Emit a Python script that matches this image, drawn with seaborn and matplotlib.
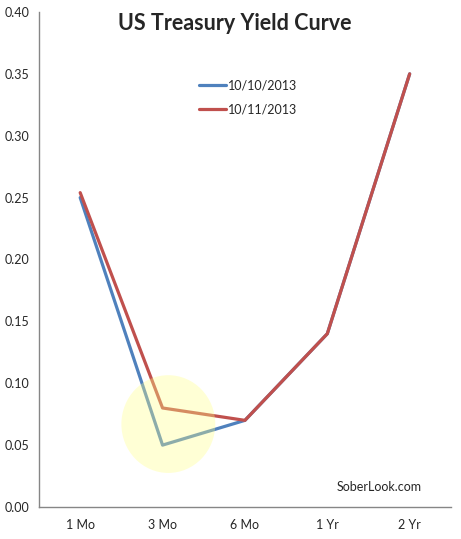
import matplotlib
matplotlib.use('Agg')
import matplotlib.pyplot as plt
from matplotlib.patches import Ellipse
from matplotlib.ticker import FixedLocator, NullFormatter
import seaborn as sns
import pandas as pd

maturities = ["1 Mo", "3 Mo", "6 Mo", "1 Yr", "2 Yr"]
yield_oct10 = [0.25, 0.05, 0.07, 0.14, 0.35]
yield_oct11 = [0.254, 0.08, 0.07, 0.14, 0.35]
dates = ["10/10/2013", "10/11/2013"]

df = pd.DataFrame({
    "maturity": maturities * 2,
    "pos": list(range(len(maturities))) * 2,
    "yield": yield_oct10 + yield_oct11,
    "date": [dates[0]] * 5 + [dates[1]] * 5,
})

sns.set_style("white")
plt.rcParams['font.family'] = ['Lato', 'DejaVu Sans']

fig = plt.figure(figsize=(4.61, 5.39), dpi=100)
ax = fig.add_axes([0.0846, 0.0594, 0.8934, 0.9184])

sns.lineplot(data=df, x="pos", y="yield", hue="date", sort=False,
             palette=["#4F81BD", "#C0504D"], linewidth=2.3, ax=ax)

# highlight circle around 3 Mo
ax.add_patch(Ellipse((1.07, 0.067), 1.14, 0.079, facecolor="#FFFF88",
                     alpha=0.35, edgecolor="none", zorder=5))

ax.set_xlim(-0.5, 4.5)
ax.set_ylim(0, 0.40)
ax.set_yticks([i * 0.05 for i in range(9)])
ax.set_yticklabels([f"{i * 0.05:.2f}" for i in range(9)], fontsize=9)

ax.xaxis.set_major_locator(FixedLocator([-0.5, 0.5, 1.5, 2.5, 3.5, 4.5]))
ax.xaxis.set_major_formatter(NullFormatter())
ax.xaxis.set_minor_locator(FixedLocator(range(len(maturities))))
ax.set_xticklabels(maturities, minor=True, fontsize=9)
ax.tick_params(axis="x", which="major", length=5, color="#868686", direction="out")
ax.tick_params(axis="x", which="minor", length=0, pad=9)
ax.tick_params(axis="y", length=4, color="#868686", direction="out", pad=3)

for side in ["top", "right"]:
    ax.spines[side].set_visible(False)
for side in ["left", "bottom"]:
    ax.spines[side].set_color("#868686")
    ax.spines[side].set_linewidth(1)

ax.set_xlabel("")
ax.set_ylabel("")

fig.text(0.51, 0.956, "US Treasury Yield Curve", ha="center", va="center",
         fontsize=15.5, fontweight="bold")

ax.legend(loc="upper left", bbox_to_anchor=(0.36, 0.887), frameon=False,
          fontsize=9, handlelength=2.2, handletextpad=0.15, labelspacing=0.95)

ax.text(0.93, 0.04, "SoberLook.com", transform=ax.transAxes, ha="right",
        va="center", fontsize=9)

fig.savefig("out.png", dpi=100)
